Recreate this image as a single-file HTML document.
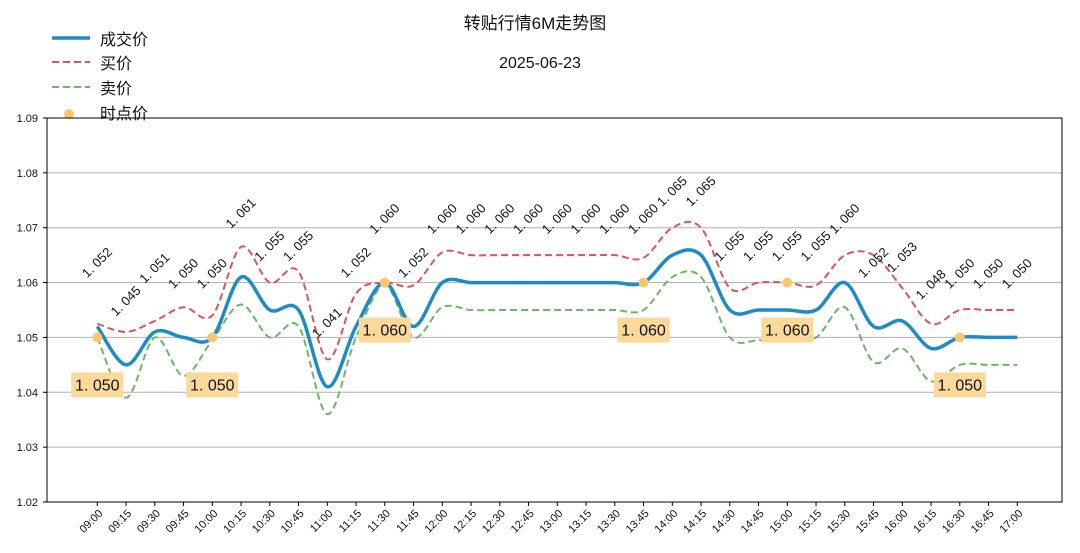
<!DOCTYPE html>
<html><head><meta charset="utf-8">
<style>
html,body{margin:0;padding:0;background:#fff;}
svg{display:block;font-family:"Liberation Sans","Noto Sans CJK SC",sans-serif;}
</style></head>
<body>
<svg id="chart" width="1080" height="553" viewBox="0 0 1080 553">
  <text x="535" y="29" font-size="17" text-anchor="middle" fill="#111">转贴行情6M走势图</text>
  <text x="540" y="68" font-size="16" text-anchor="middle" fill="#111">2025-06-23</text>
  <g>
    <g><line x1="52" y1="38" x2="90" y2="38" stroke="#1f8ac8" stroke-width="3.5"/><text x="100" y="45" font-size="16" fill="#111">成交价</text></g>
    <g><line x1="52" y1="62" x2="90" y2="62" stroke="#e0525a" stroke-width="2" stroke-dasharray="7,4"/><text x="100" y="69" font-size="16" fill="#111">买价</text></g>
    <g><line x1="52" y1="87" x2="90" y2="87" stroke="#6ab861" stroke-width="2" stroke-dasharray="7,4"/><text x="100" y="94" font-size="16" fill="#111">卖价</text></g>
    <g><circle cx="69" cy="114" r="5" fill="#f7c96e"/><text x="100" y="119" font-size="16" fill="#111">时点价</text></g>
  </g>
  <g id="grid"></g>
  <g id="series"></g>
  <g id="labels"></g>
  <rect x="47" y="118" width="1015" height="384" fill="none" stroke="#000" stroke-width="1"/>
  <g id="axes"></g>
</svg>
<script>
const categories=["09:00","09:15","09:30","09:45","10:00","10:15","10:30","10:45","11:00","11:15","11:30","11:45","12:00","12:15","12:30","12:45","13:00","13:15","13:30","13:45","14:00","14:15","14:30","14:45","15:00","15:15","15:30","15:45","16:00","16:15","16:30","16:45","17:00"];
const dealPrice=[1.052,1.045,1.051,1.050,1.050,1.061,1.055,1.055,1.041,1.052,1.060,1.052,1.060,1.060,1.060,1.060,1.060,1.060,1.060,1.060,1.065,1.065,1.055,1.055,1.055,1.055,1.060,1.052,1.053,1.048,1.050,1.050,1.050];
const buyPrice=[1.0525,1.051,1.053,1.0555,1.054,1.0665,1.060,1.062,1.046,1.058,1.060,1.0595,1.0655,1.065,1.065,1.065,1.065,1.065,1.065,1.0645,1.070,1.070,1.059,1.060,1.060,1.0595,1.065,1.065,1.059,1.0525,1.055,1.055,1.055];
const sellPrice=[1.050,1.039,1.050,1.043,1.0495,1.056,1.050,1.052,1.036,1.050,1.0595,1.050,1.0555,1.055,1.055,1.055,1.055,1.055,1.055,1.055,1.061,1.061,1.050,1.0495,1.050,1.050,1.0555,1.0455,1.048,1.042,1.045,1.045,1.045];
const spotIndex=[0,4,10,19,24,30];
const spotPrice=[1.050,1.050,1.060,1.060,1.060,1.050];
const yTicks=[1.02,1.03,1.04,1.05,1.06,1.07,1.08,1.09];

const NS="http://www.w3.org/2000/svg";
const X0=97.3,DX=28.75,YB=502,YT=118,YMIN=1.02,YMAX=1.09;
const xs=i=>X0+i*DX;
const ys=v=>YB-(v-YMIN)/(YMAX-YMIN)*(YB-YT);
function mk(tag,attrs,parent){const e=document.createElementNS(NS,tag);for(const k in attrs)e.setAttribute(k,attrs[k]);parent.appendChild(e);return e;}
const grid=document.getElementById('grid'),axes=document.getElementById('axes'),series=document.getElementById('series'),labels=document.getElementById('labels');

yTicks.forEach(t=>{
  const y=ys(t);
  const g=mk('line',{x1:47,x2:1062,y1:y,y2:y,stroke:'#b0b0b0','stroke-width':1},grid);
  
  
  const tk=mk('line',{x1:43,x2:47,y1:y,y2:y,stroke:'#000'},axes);
  
  
  const tx=mk('text',{x:38,y:y+4,'font-size':11,'text-anchor':'end',fill:'#111'},axes);
  tx.textContent=t.toFixed(2);
  
  
});
categories.forEach((c,i)=>{
  const x=xs(i);
  const tk=mk('line',{x1:x,x2:x,y1:502,y2:506,stroke:'#000'},axes);
  
  
  const tx=mk('text',{x:x+6,y:514,'font-size':11,'text-anchor':'end',fill:'#111',transform:`rotate(-45 ${x+6} 514)`},axes);
  tx.textContent=c;
  
  
});

function smooth(vals){
  const p=vals.map((v,i)=>[xs(i),ys(v)]);
  let d=`M${p[0][0]},${p[0][1]}`;
  for(let i=0;i<p.length-1;i++){
    const p0=p[i-1]||p[i],p1=p[i],p2=p[i+1],p3=p[i+2]||p[i+1];
    const c1=[p1[0]+(p2[0]-p0[0])/6,p1[1]+(p2[1]-p0[1])/6];
    const c2=[p2[0]-(p3[0]-p1[0])/6,p2[1]-(p3[1]-p1[1])/6];
    d+=` C${c1[0]},${c1[1]} ${c2[0]},${c2[1]} ${p2[0]},${p2[1]}`;
  }
  return d;
}
const sp=mk('path',{d:smooth(sellPrice),fill:'none',stroke:'#6ab861','stroke-width':2,'stroke-dasharray':'7,4'},series);


const bp=mk('path',{d:smooth(buyPrice),fill:'none',stroke:'#e0525a','stroke-width':2,'stroke-dasharray':'7,4'},series);


const dp=mk('path',{d:smooth(dealPrice),fill:'none',stroke:'#1f8ac8','stroke-width':3.5},series);



spotIndex.forEach((idx,k)=>{
  const x=xs(idx),y=ys(spotPrice[k]);
  const c=mk('circle',{cx:x,cy:y,r:5,fill:'#f7c96e'},series);
  
  
  const r=mk('rect',{x:x-26,y:y+35,width:52,height:25,fill:'#fad99a'},labels);
  
  
  const t=mk('text',{x:x,y:y+53,'font-size':16,'text-anchor':'middle',fill:'#111'},labels);
  t.textContent=spotPrice[k].toFixed(3).replace('.','. ');
  
  
});
dealPrice.forEach((v,i)=>{
  const x=xs(i)-10,y=ys(v)-48;
  const t=mk('text',{x:x,y:y,'font-size':13,fill:'#111',transform:`rotate(-45 ${x} ${y})`},labels);
  t.textContent=v.toFixed(3).replace('.','. ');
  
  
});
</script>
</body></html>
